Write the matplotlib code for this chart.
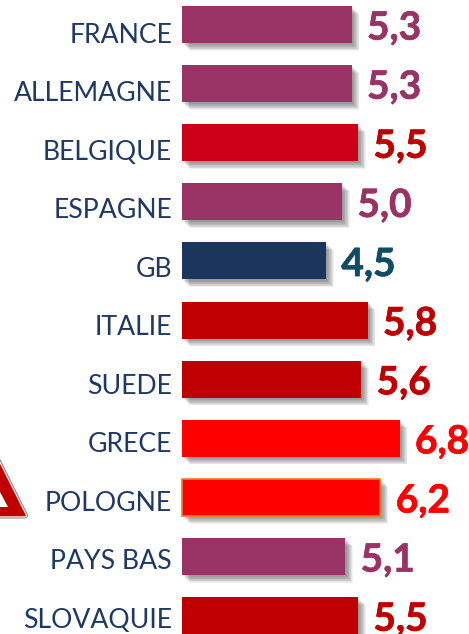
import matplotlib
matplotlib.use("Agg")
import matplotlib.pyplot as plt
import matplotlib.patheffects as pe
from matplotlib.patches import Polygon
from matplotlib.transforms import Affine2D

countries = ["FRANCE", "ALLEMAGNE", "BELGIQUE", "ESPAGNE", "GB", "ITALIE",
             "SUEDE", "GRECE", "POLOGNE", "PAYS BAS", "SLOVAQUIE"]
values = [5.3, 5.3, 5.5, 5.0, 4.5, 5.8, 5.6, 6.8, 6.2, 5.1, 5.5]
bar_colors = ["#993366", "#993366", "#CC0018", "#993366", "#1B365D", "#C00000",
              "#C00000", "#FF0000", "#FF0000", "#993366", "#C00000"]
value_colors = ["#993366", "#993366", "#C00000", "#993366", "#0F4C66", "#C00000",
                "#C00000", "#FF0000", "#FF0000", "#993366", "#C00000"]
edge_colors = ["none"] * 8 + ["#ED7D31"] + ["none"] * 2

W, H = 469, 634
fig = plt.figure(figsize=(W / 100, H / 100), dpi=100)
ax = fig.add_axes([0, 0, 1, 1])
ax.set_xlim(-182 / 32, (W - 182) / 32)
ax.set_ylim(10.31, -0.415)
ax.axis("off")

# soft drop shadow, stacked layers fake the blur
shadow = [pe.SimplePatchShadow(offset=(3.5 + d, -3.5 - d), shadow_rgbFace="#444444", alpha=0.07)
          for d in (-2.5, -2, -1.5, -1, -0.5, 0, 0.5, 1, 1.5, 2)]

for i, (c, v) in enumerate(zip(countries, values)):
    lw = 1.2 if edge_colors[i] != "none" else 0
    ax.barh(i, v, height=0.626, color=bar_colors[i], edgecolor=edge_colors[i], linewidth=lw,
            path_effects=shadow + [pe.Normal()], zorder=2)
    ax.text(-0.31, i + 0.178 - 0.01 * i, c, ha="right", va="center", color="#1F3864",
            fontsize=19.2, family="Lato")
    t = ax.text(v + 0.48, i + 0.06, f"{v:.1f}".replace(".", ","), ha="left", va="center",
                color=value_colors[i], fontsize=28, fontweight="bold", family="Lato")
    t.set_path_effects([pe.withStroke(linewidth=0.5, foreground=value_colors[i])])

# warning sign cut by the left edge, drawn in pixel coordinates
px = Affine2D().scale(1, -1).translate(0, H)
outer = [(-4, 457.5), (25, 515.5), (-30, 515.5)]
inner = [(0, 492), (8, 507), (-8, 507)]
for color, lw in [("#666666", 4.2), ("#FFFFFF", 3.0), ("#C00000", 1.2)]:
    fig.add_artist(Polygon(outer, closed=True, facecolor="#C00000", edgecolor=color, linewidth=lw,
                           joinstyle="round", transform=px))
fig.add_artist(Polygon(inner, closed=True, facecolor="#FFFFFF", edgecolor="none", transform=px))

fig.savefig("out.png", dpi=100)
